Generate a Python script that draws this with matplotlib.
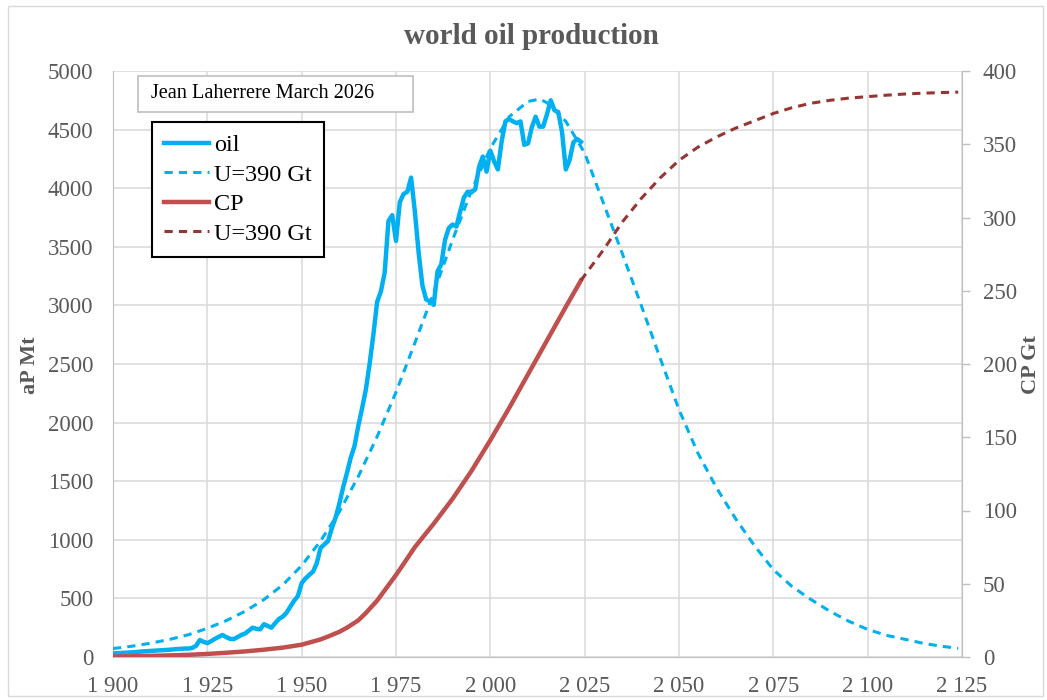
import matplotlib
matplotlib.use("Agg")
import matplotlib.pyplot as plt
from matplotlib.patches import Rectangle
from matplotlib.ticker import FuncFormatter, MultipleLocator

plt.rcParams['font.family'] = ['Liberation Serif', 'DejaVu Serif']

# ---- data ----
oil_years = list(range(1900, 2025))
oil_mt = [30, 32, 34, 36, 38, 40, 42, 45, 48, 50,
          52, 54, 56, 58, 60, 62, 65, 68, 70, 72,
          72, 78, 95, 145, 130, 118, 135, 155, 172, 188,
          170, 155, 152, 170, 188, 200, 225, 250, 240, 236,
          280, 265, 250, 290, 325, 345, 378, 430, 480, 520,
          630, 670, 700, 728, 800, 930, 960, 990, 1100, 1190,
          1310, 1450, 1570, 1700, 1800, 1970, 2120, 2280, 2500, 2750,
          3030, 3120, 3280, 3720, 3770, 3550, 3880, 3950, 3970, 4090,
          3800, 3450, 3170, 3050, 3035, 3005, 3290, 3350, 3560, 3660,
          3690, 3672, 3800, 3920, 3970, 3965, 3990, 4180, 4270, 4141,
          4320, 4230, 4160, 4400, 4570, 4590, 4570, 4555, 4570, 4370,
          4383, 4520, 4610, 4525, 4525, 4630, 4750, 4665, 4650, 4480,
          4160, 4240, 4390, 4420, 4395]

model_years = [1900, 1905, 1910, 1915, 1920, 1925, 1930, 1935, 1940, 1945,
               1950, 1955, 1960, 1965, 1970, 1975, 1980, 1985, 1990, 1995,
               2000, 2005, 2010, 2013, 2015, 2020, 2025, 2030, 2035, 2040,
               2045, 2050, 2055, 2060, 2065, 2070, 2075, 2080, 2085, 2090,
               2095, 2100, 2105, 2110, 2115, 2120, 2124]
model_mt = [72, 92, 118, 150, 190, 245, 310, 390, 490, 615,
            780, 990, 1240, 1540, 1880, 2260, 2680, 3110, 3560, 3980,
            4340, 4610, 4740, 4760, 4730, 4570, 4300, 3870, 3440, 3000,
            2550, 2110, 1740, 1440, 1180, 950, 745, 600, 490, 390,
            305, 235, 185, 150, 115, 90, 74]

cp_years = [1900, 1905, 1910, 1915, 1920, 1925, 1930, 1935, 1940, 1945,
            1950, 1955, 1957, 1960, 1962, 1965, 1967, 1970, 1972, 1975,
            1977, 1980, 1985, 1990, 1995, 2000, 2005, 2010, 2015, 2020, 2024]
cp_gt = [0.3, 0.5, 0.8, 1.1, 1.5, 2.1, 2.9, 3.8, 5.0, 6.4,
         8.4, 12.0, 14.0, 17.2, 20.0, 25.0, 30.0, 38.5, 45.5, 56.0,
         63.5, 75.0, 91.0, 108.0, 127.0, 148.0, 170.0, 193.0, 216.0, 239.0, 257.0]

cpm_years = [2024, 2030, 2035, 2040, 2045, 2050, 2055, 2060, 2065, 2070,
             2075, 2080, 2085, 2090, 2095, 2100, 2105, 2110, 2115, 2120, 2124]
cpm_gt = [257, 278, 297, 313, 327, 339, 348, 355, 361, 366,
          371, 375, 378, 380, 381.5, 382.5, 383.5, 384.3, 384.9, 385.3, 385.6]

labels = ["oil", "U=390 Gt", "CP", "U=390 Gt"]
title = "world oil production"
note = "Jean Laherrere March 2026"

# ---- figure ----
W, H = 1047, 700
fig = plt.figure(figsize=(W / 100, H / 100), dpi=100)
fig.patch.set_facecolor("white")

def fx(px):
    return px / W

def fy(py):
    return 1 - py / H

ax = fig.add_axes([fx(113), fy(657), fx(962) - fx(113), fy(71) - fy(657)])
ax2 = ax.twinx()

BLUE = "#00B0F0"
RED = "#C0504D"
DRED = "#963634"
GRAY = "#595959"
GRID = "#D9D9D9"

ax.set_xlim(1900, 2125)
ax.set_ylim(0, 5000)
ax2.set_ylim(0, 400)
ax.xaxis.set_major_locator(MultipleLocator(25))
ax.yaxis.set_major_locator(MultipleLocator(500))
ax2.yaxis.set_major_locator(MultipleLocator(50))
ax.xaxis.set_major_formatter(FuncFormatter(lambda v, p: f"{int(v) // 1000} {int(v) % 1000:03d}"))
ax.grid(True, color=GRID, lw=1.1)
ax.set_axisbelow(True)

for a in (ax, ax2):
    for s in a.spines.values():
        s.set_visible(False)
ax.spines['left'].set_visible(True)
ax.spines['left'].set_color("#BFBFBF")
ax.spines['bottom'].set_visible(True)
ax.spines['bottom'].set_color("#BFBFBF")
ax2.spines['right'].set_visible(True)
ax2.spines['right'].set_color("#BFBFBF")

ax.tick_params(axis='x', length=0, pad=14, labelsize=16.5, labelcolor=GRAY)
ax.tick_params(axis='y', length=0, pad=14, labelsize=16.5, labelcolor=GRAY)
ax2.tick_params(axis='y', length=6, width=1, color="#BFBFBF", direction='out',
                pad=9, labelsize=16.5, labelcolor=GRAY)

l1, = ax.plot(oil_years, oil_mt, color=BLUE, lw=3.2, solid_joinstyle='round', zorder=3)
l2, = ax.plot(model_years, model_mt, color=BLUE, lw=2.2, ls=(0, (2.7, 2.0)), zorder=3)
l3, = ax2.plot(cp_years, cp_gt, color=RED, lw=3.2, zorder=3)
l4, = ax2.plot(cpm_years, cpm_gt, color=DRED, lw=2.2, ls=(0, (2.7, 2.0)), zorder=3)

leg = ax2.legend([l1, l2, l3, l4], labels, loc='upper left',
                 bbox_to_anchor=(fx(152), fy(122)), bbox_transform=fig.transFigure,
                 borderaxespad=0, fontsize=17.5, frameon=True, fancybox=False,
                 framealpha=1, edgecolor='black', handlelength=1.85,
                 handletextpad=0.2, labelspacing=0.31, borderpad=0.5)
leg.get_frame().set_linewidth(1.5)
leg.set_zorder(10)

# note box
fig.patches.append(Rectangle((fx(138), fy(112)), fx(413) - fx(138), fy(76) - fy(112),
                             transform=fig.transFigure, facecolor='white',
                             edgecolor='#BFBFBF', lw=1.2, zorder=5))
fig.text(fx(151), fy(94), note, fontsize=14.6, color='black', va='center', ha='left', zorder=6)

# title and axis labels
fig.text(fx(531), fy(36), title, fontsize=21, fontweight='bold', color=GRAY,
         ha='center', va='center')
fig.text(fx(30), fy(365), "aP Mt", fontsize=16, fontweight='bold', color=GRAY,
         rotation=90, ha='center', va='center')
fig.text(fx(1031), fy(365), "CP Gt", fontsize=16, fontweight='bold', color=GRAY,
         rotation=90, ha='center', va='center')

# chart border
fig.patches.append(Rectangle((fx(8), fy(696)), fx(1043) - fx(8), fy(6) - fy(696),
                             transform=fig.transFigure, facecolor='none',
                             edgecolor='#D9D9D9', lw=1.0, zorder=0))

fig.savefig("out.png", dpi=100)
